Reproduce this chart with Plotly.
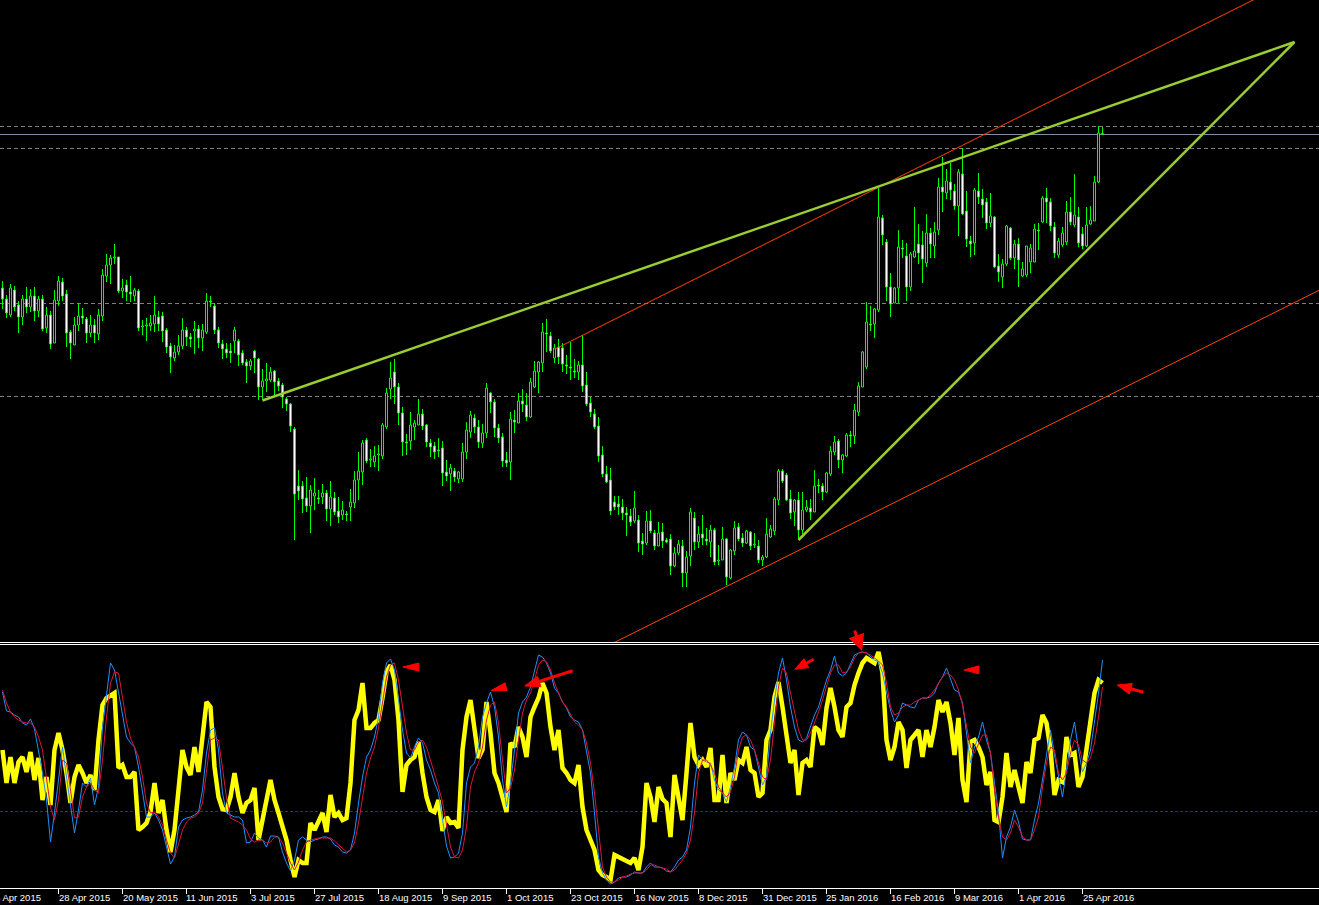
import math
import plotly.graph_objects as go

# ---------------- data ----------------
date_labels = ["6 Apr 2015", "28 Apr 2015", "20 May 2015", "11 Jun 2015", "3 Jul 2015",
               "27 Jul 2015", "18 Aug 2015", "9 Sep 2015", "1 Oct 2015", "23 Oct 2015",
               "16 Nov 2015", "8 Dec 2015", "31 Dec 2015", "25 Jan 2016", "16 Feb 2016",
               "9 Mar 2016", "1 Apr 2016", "25 Apr 2016"]
label_bar = [-2, 14, 30, 46, 62, 78, 94, 110, 126, 142, 158, 174, 190, 206, 222, 238, 254, 270]

open_ = [354, 343, 327, 352, 337, 325, 343, 335, 346, 331,
         343, 314, 327, 299, 341, 360, 348, 310, 297, 317,
         326, 323, 309, 317, 308, 326, 366, 377, 384, 385,
         351, 357, 350, 346, 351, 315, 316, 316, 318, 325,
         326, 312, 296, 284, 290, 296, 312, 305, 311, 313,
         304, 310, 341, 336, 312, 298, 293, 291, 301, 301,
         289, 280, 276, 291, 283, 255, 261, 262, 271, 261,
         257, 243, 238, 213, 156, 156, 144, 136, 146, 144,
         145, 149, 133, 144, 131, 127, 128, 135, 139, 162,
         170, 202, 182, 180, 187, 186, 215, 253, 270, 255,
         229, 200, 201, 215, 217, 228, 217, 199, 196, 192,
         194, 170, 168, 171, 163, 163, 190, 210, 224, 215,
         199, 209, 249, 240, 214, 205, 182, 180, 222, 219,
         241, 237, 225, 255, 270, 279, 309, 306, 284, 295,
         294, 277, 275, 271, 270, 277, 257, 239, 228, 216,
         187, 168, 162, 140, 138, 135, 129, 126, 121, 122,
         101, 99, 121, 109, 96, 110, 102, 103, 76, 89,
         96, 69, 86, 124, 100, 108, 103, 100, 112, 81,
         82, 103, 64, 91, 115, 104, 99, 110, 97, 96,
         82, 85, 105, 111, 142, 171, 167, 143, 130, 142,
         112, 132, 134, 130, 157, 156, 150, 168, 190, 201,
         182, 186, 207, 206, 230, 255, 275, 318, 318, 332,
         424, 400, 355, 339, 354, 394, 386, 355, 385, 398,
         397, 379, 409, 396, 412, 455, 449, 460, 451, 436,
         468, 431, 401, 399, 451, 443, 440, 419, 425, 376,
         365, 378, 414, 384, 398, 366, 367, 380, 380, 412,
         420, 444, 440, 415, 387, 397, 400, 430, 417, 425,
         408, 396, 418, 421, 460, 508]

high = [361, 347, 358, 356, 341, 347, 355, 353, 355, 346,
        347, 335, 331, 352, 366, 364, 352, 312, 325, 339,
        334, 325, 327, 323, 333, 373, 388, 387, 398, 385,
        363, 362, 366, 354, 353, 322, 324, 327, 346, 331,
        330, 314, 299, 297, 307, 324, 315, 309, 321, 317,
        318, 349, 346, 339, 315, 302, 299, 299, 315, 303,
        292, 283, 283, 292, 284, 273, 279, 275, 272, 264,
        259, 245, 239, 215, 172, 161, 165, 157, 164, 152,
        158, 152, 161, 150, 145, 141, 131, 153, 171, 190,
        202, 204, 193, 196, 197, 219, 254, 280, 283, 259,
        235, 208, 230, 222, 243, 233, 218, 203, 200, 204,
        201, 182, 178, 174, 171, 199, 220, 231, 228, 222,
        218, 259, 250, 243, 218, 209, 190, 230, 232, 249,
        253, 249, 264, 281, 281, 319, 323, 310, 298, 303,
        299, 287, 300, 283, 281, 307, 270, 245, 233, 225,
        196, 176, 174, 146, 146, 143, 135, 133, 151, 127,
        109, 131, 132, 112, 120, 119, 104, 108, 95, 102,
        102, 91, 134, 130, 116, 127, 114, 117, 114, 97,
        115, 104, 93, 121, 119, 109, 112, 111, 109, 102,
        87, 124, 117, 145, 173, 173, 169, 152, 143, 150,
        150, 142, 143, 172, 163, 159, 170, 196, 206, 203,
        188, 209, 211, 238, 260, 291, 340, 336, 334, 454,
        427, 403, 369, 355, 412, 402, 399, 390, 435, 418,
        411, 428, 414, 420, 464, 485, 473, 479, 458, 473,
        494, 451, 406, 454, 469, 453, 444, 449, 426, 388,
        383, 417, 415, 402, 404, 380, 396, 398, 418, 419,
        446, 454, 444, 420, 404, 415, 441, 445, 468, 435,
        415, 435, 436, 466, 516, 515]

low = [333, 324, 325, 331, 309, 317, 329, 330, 321, 325,
       311, 309, 293, 299, 336, 341, 295, 283, 297, 311,
       318, 299, 305, 299, 302, 321, 360, 358, 378, 349,
       344, 341, 340, 341, 311, 307, 301, 311, 310, 311,
       300, 289, 269, 281, 287, 293, 296, 295, 288, 294,
       291, 308, 335, 308, 294, 283, 284, 279, 289, 276,
       277, 259, 272, 269, 242, 242, 250, 260, 247, 251,
       234, 231, 210, 102, 142, 129, 130, 109, 132, 138,
       138, 121, 116, 127, 119, 122, 121, 121, 134, 142,
       157, 179, 175, 175, 171, 183, 213, 243, 238, 217,
       186, 187, 192, 202, 217, 212, 195, 185, 183, 185,
       156, 161, 151, 160, 159, 160, 183, 204, 209, 194,
       194, 204, 229, 205, 199, 175, 175, 162, 209, 219,
       230, 221, 224, 254, 249, 270, 290, 289, 279, 278,
       270, 268, 262, 264, 262, 250, 236, 225, 213, 180,
       165, 159, 127, 132, 127, 122, 106, 116, 119, 90,
       87, 97, 109, 92, 96, 94, 99, 67, 75, 87,
       55, 55, 76, 92, 94, 97, 97, 85, 77, 77,
       82, 57, 63, 87, 101, 95, 98, 92, 94, 79,
       76, 84, 104, 107, 137, 159, 141, 123, 116, 102,
       108, 130, 122, 130, 149, 142, 149, 166, 187, 174,
       169, 185, 195, 198, 226, 255, 273, 311, 304, 330,
       397, 341, 325, 339, 339, 384, 341, 351, 384, 378,
       359, 375, 384, 384, 407, 430, 443, 442, 432, 406,
       427, 395, 385, 387, 438, 424, 413, 415, 374, 360,
       354, 376, 382, 373, 355, 365, 365, 369, 380, 392,
       419, 419, 411, 384, 384, 395, 397, 417, 415, 395,
       393, 395, 417, 421, 459, 507]

close = [343, 329, 354, 335, 325, 343, 335, 346, 331, 343,
         313, 327, 298, 342, 361, 346, 309, 299, 317, 326,
         324, 309, 317, 309, 327, 367, 377, 384, 385, 351,
         354, 350, 348, 352, 314, 315, 316, 319, 327, 318,
         311, 295, 285, 290, 296, 312, 305, 303, 313, 304,
         312, 341, 340, 312, 299, 293, 289, 289, 312, 287,
         279, 276, 281, 284, 255, 261, 263, 270, 260, 256,
         245, 238, 216, 148, 151, 143, 136, 152, 149, 143,
         149, 133, 145, 130, 125, 132, 127, 140, 162, 171,
         199, 181, 182, 186, 187, 217, 249, 264, 255, 229,
         200, 199, 217, 219, 228, 216, 200, 195, 190, 191,
         169, 166, 174, 165, 170, 190, 212, 227, 215, 200,
         209, 254, 240, 214, 204, 181, 179, 223, 220, 241,
         238, 225, 260, 271, 280, 310, 308, 291, 294, 285,
         278, 276, 274, 270, 277, 256, 238, 230, 215, 186,
         168, 160, 131, 135, 135, 129, 127, 120, 134, 99,
         98, 121, 111, 96, 109, 101, 100, 76, 89, 98,
         69, 85, 130, 100, 108, 104, 101, 112, 80, 82,
         103, 65, 92, 114, 103, 99, 111, 96, 98, 82,
         85, 108, 113, 143, 171, 161, 142, 129, 142, 112,
         132, 135, 130, 156, 156, 150, 169, 191, 200, 182,
         187, 207, 206, 232, 256, 290, 320, 317, 333, 425,
         407, 355, 338, 354, 395, 393, 355, 388, 391, 389,
         383, 409, 398, 410, 455, 450, 461, 452, 436, 470,
         428, 403, 398, 452, 445, 437, 419, 426, 375, 370,
         378, 416, 384, 398, 382, 373, 396, 394, 413, 411,
         444, 440, 416, 389, 401, 409, 430, 420, 427, 399,
         396, 417, 422, 460, 509, 507.5]

osc_main = [138, 105, 131, 105, 126, 131, 116, 136, 108, 130,
            88, 111, 83, 138, 155, 138, 115, 85, 111, 123,
            115, 105, 113, 98, 148, 183, 190, 193, 195, 120,
            123, 111, 111, 116, 58, 61, 65, 76, 105, 75,
            88, 58, 36, 58, 101, 138, 121, 113, 141, 116,
            151, 186, 181, 121, 91, 79, 78, 91, 115, 91,
            75, 85, 88, 100, 48, 71, 88, 108, 88, 75,
            61, 48, 28, 11, 28, 25, 25, 65, 58, 68,
            75, 56, 93, 71, 75, 68, 70, 105, 168, 178,
            205, 160, 160, 165, 168, 190, 216, 223, 208, 168,
            96, 123, 128, 131, 146, 115, 91, 78, 76, 88,
            57, 71, 65, 66, 60, 138, 171, 188, 158, 130,
            138, 186, 155, 115, 105, 91, 76, 145, 141, 161,
            151, 131, 171, 181, 190, 205, 195, 161, 138, 158,
            120, 115, 108, 105, 123, 81, 58, 48, 38, 18,
            13, 11, 8, 33, 31, 28, 26, 25, 30, 18,
            41, 105, 91, 66, 101, 89, 85, 51, 113, 91,
            68, 115, 165, 131, 123, 128, 121, 140, 88, 88,
            133, 85, 115, 108, 128, 125, 141, 118, 115, 91,
            95, 148, 158, 191, 206, 181, 155, 125, 138, 93,
            125, 128, 121, 161, 158, 143, 180, 200, 181, 158,
            151, 181, 185, 203, 215, 225, 230, 228, 225, 236,
            215, 148, 128, 141, 166, 158, 120, 148, 153, 158,
            131, 158, 141, 161, 188, 176, 186, 165, 133, 170,
            108, 86, 146, 148, 141, 131, 103, 116, 68, 66,
            91, 135, 101, 118, 101, 85, 126, 115, 148, 150,
            173, 165, 138, 93, 108, 106, 151, 133, 135, 101,
            111, 138, 168, 195, 208, 205]

stoch_k = [196, 177, 176, 173, 171, 165, 163, 169, 159, 138,
           115, 88, 46, 75, 111, 141, 111, 81, 55, 78,
           105, 101, 110, 83, 101, 161, 196, 225, 218, 195,
           171, 151, 145, 141, 121, 95, 71, 71, 75, 68,
           58, 41, 24, 31, 61, 68, 70, 71, 73, 76,
           98, 135, 158, 160, 138, 95, 75, 73, 71, 71,
           68, 45, 46, 55, 50, 48, 41, 52, 52, 51,
           36, 25, 17, 28, 48, 51, 48, 46, 48, 49,
           51, 51, 49, 43, 41, 36, 35, 38, 55, 85,
           111, 131, 138, 151, 171, 205, 225, 229, 218, 188,
           158, 135, 130, 141, 150, 145, 128, 118, 105, 95,
           67, 42, 30, 31, 35, 55, 105, 121, 125, 141,
           171, 185, 196, 181, 151, 108, 81, 105, 138, 175,
           186, 191, 201, 218, 233, 231, 225, 215, 200, 195,
           186, 180, 171, 168, 166, 158, 138, 115, 75, 31,
           15, 8, 4, 6, 10, 11, 11, 13, 16, 15,
           15, 21, 25, 21, 21, 20, 17, 16, 21, 28,
           31, 38, 61, 105, 133, 128, 126, 125, 108, 98,
           95, 86, 101, 121, 148, 156, 153, 141, 138, 121,
           103, 111, 155, 188, 215, 230, 208, 181, 161, 148,
           146, 150, 161, 173, 181, 195, 208, 218, 232, 215,
           212, 215, 225, 233, 235, 236, 235, 231, 228, 226,
           215, 196, 178, 166, 173, 185, 183, 181, 180, 188,
           190, 190, 191, 195, 205, 211, 220, 208, 198, 196,
           185, 155, 125, 141, 151, 166, 148, 135, 105, 75,
           30, 51, 61, 78, 66, 49, 48, 48, 68, 85,
           108, 135, 158, 133, 111, 91, 118, 148, 166, 138,
           116, 125, 138, 165, 195, 228]

stoch_d = [198, 185, 176, 171, 168, 166, 165, 165, 161, 151,
           138, 108, 81, 68, 88, 128, 125, 98, 70, 71,
           91, 101, 105, 98, 95, 128, 171, 205, 216, 215,
           188, 166, 150, 141, 131, 111, 85, 75, 76, 71,
           63, 48, 35, 30, 45, 58, 66, 70, 71, 75,
           85, 115, 148, 150, 148, 120, 90, 70, 68, 66,
           63, 58, 49, 46, 48, 48, 45, 46, 51, 51,
           45, 35, 25, 18, 26, 38, 46, 48, 49, 50,
           50, 50, 50, 47, 43, 40, 36, 38, 45, 65,
           91, 115, 130, 141, 160, 185, 211, 223, 225, 208,
           181, 155, 138, 138, 146, 148, 141, 128, 115, 101,
           86, 63, 41, 31, 30, 38, 61, 101, 116, 125,
           141, 168, 183, 186, 165, 128, 95, 100, 118, 148,
           175, 188, 195, 208, 223, 228, 226, 218, 205, 195,
           186, 181, 173, 166, 163, 158, 145, 125, 95, 55,
           21, 11, 6, 6, 8, 11, 12, 14, 15, 15,
           15, 18, 23, 23, 21, 20, 19, 16, 18, 23,
           28, 35, 48, 75, 115, 128, 128, 123, 115, 101,
           95, 91, 96, 111, 138, 151, 153, 148, 138, 125,
           111, 108, 128, 165, 201, 220, 215, 195, 175, 158,
           148, 148, 155, 165, 176, 188, 201, 215, 223, 223,
           215, 216, 221, 230, 235, 236, 235, 233, 230, 227,
           223, 205, 181, 173, 175, 181, 183, 183, 186, 188,
           190, 190, 193, 198, 205, 211, 215, 213, 208, 198,
           183, 161, 141, 135, 145, 153, 153, 135, 98, 71,
           51, 48, 55, 68, 61, 51, 48, 48, 58, 71,
           101, 125, 141, 138, 115, 108, 115, 135, 148, 143,
           128, 125, 130, 145, 171, 201]

price_levels = [515.5, 493.5, 338.5, 245.5]
osc_level = 76.5

green_lines = [((65, 241.5), (323, 600)), ((199, 102), (323, 600))]
red_lines = [((138, 292.7), (329.2, 675.1)), ((150, -6.4), (329.2, 351.8))]

# arrow marks on the oscillator (tip -> tail, in bar / oscillator units)
arrow_tips = [(100.05, 221.0), (122.1, 197.3), (130.6, 202.0), (198.1, 218.7), (240.4, 218.0), (278.7, 203.0)]
arrow_tails = [(104.1, 221.0), (125.9, 201.3), (142.55, 217.3), (202.8, 228.7), (244.1, 218.2), (285.2, 195.7)]
down_arrow_tip = (214.9, 237.0)

n = len(open_)
assert len(high) == n and len(low) == n and len(close) == n, (len(open_), len(high), len(low), len(close))
assert len(osc_main) == n and len(stoch_k) == n and len(stoch_d) == n, (len(osc_main), len(stoch_k), len(stoch_d))
bars = list(range(n))

# ---------------- geometry / style ----------------
W, H = 1319, 905
PX_PER_BAR = 4.0
X0_PX = 2.5
x_range = [-X0_PX / PX_PER_BAR, (W - X0_PX) / PX_PER_BAR]
MAIN_BOTTOM = 642
OSC_TOP, OSC_BOTTOM = 644, 888
OSC_PX = 1.0
LIME = "#00FF00"

fig = go.Figure()

# wicks (as thin bars so that bodies, drawn later in the same layer, cover them)
fig.add_trace(go.Bar(x=bars, y=[high[i] - low[i] for i in bars], base=low, width=0.25,
                     marker=dict(color=LIME, line=dict(width=0)),
                     hoverinfo="skip", xaxis="x", yaxis="y"))

# bodies
for bull in (True, False):
    xs, bases, hs = [], [], []
    for i in bars:
        up = close[i] >= open_[i]
        if up != bull:
            continue
        lo_b = min(open_[i], close[i])
        hi_b = max(open_[i], close[i])
        xs.append(i)
        bases.append(lo_b)
        hs.append(max(hi_b - lo_b, 1))
    fig.add_trace(go.Bar(x=xs, y=hs, base=bases, width=0.5,
                         marker=dict(color="#000000" if bull else "#FFFFFF",
                                     line=dict(color=LIME, width=1)),
                         hoverinfo="skip", xaxis="x", yaxis="y"))

# trend lines
for (a, b) in red_lines:
    fig.add_trace(go.Scatter(x=[a[0], b[0]], y=[a[1], b[1]], mode="lines",
                             line=dict(color="#FF4500", width=1), hoverinfo="skip",
                             xaxis="x", yaxis="y"))
for (a, b) in green_lines:
    fig.add_trace(go.Scatter(x=[a[0], b[0]], y=[a[1], b[1]], mode="lines",
                             line=dict(color="#9ACD32", width=2.5), hoverinfo="skip",
                             xaxis="x", yaxis="y"))

# oscillator
fig.add_trace(go.Scatter(x=bars, y=osc_main, mode="lines", line=dict(color="#FFFF00", width=4.5),
                         hoverinfo="skip", xaxis="x2", yaxis="y2"))
fig.add_trace(go.Scatter(x=bars, y=stoch_k, mode="lines", line=dict(color="#1E90FF", width=1),
                         hoverinfo="skip", xaxis="x2", yaxis="y2"))
fig.add_trace(go.Scatter(x=bars, y=stoch_d, mode="lines", line=dict(color="#DC143C", width=1),
                         hoverinfo="skip", xaxis="x2", yaxis="y2"))

# arrows
head_len = [16.5, 16.0, 15.0, 13.0, 16.0, 14.0]
head_hw = [4.0, 4.0, 5.5, 5.0, 4.0, 5.5]
for k in range(len(arrow_tips)):
    tip, tail = arrow_tips[k], arrow_tails[k]
    tx, ty = tip[0] * PX_PER_BAR, -tip[1] * OSC_PX
    ex, ey = tail[0] * PX_PER_BAR, -tail[1] * OSC_PX
    dx, dy = ex - tx, ey - ty
    d = math.hypot(dx, dy)
    ux, uy = dx / d, dy / d
    hl = min(head_len[k], d)
    bx, by = tx + ux * hl, ty + uy * hl
    nx, ny = -uy, ux
    hw = head_hw[k]
    pts = [(tx, ty), (bx + nx * hw, by + ny * hw), (bx - nx * hw, by - ny * hw), (tx, ty)]
    fig.add_trace(go.Scatter(x=[p[0] / PX_PER_BAR for p in pts], y=[-p[1] / OSC_PX for p in pts],
                             mode="lines", fill="toself", fillcolor="#FF0000",
                             line=dict(color="#FF0000", width=1), hoverinfo="skip",
                             xaxis="x2", yaxis="y2"))
    if d > hl + 0.5:
        fig.add_trace(go.Scatter(x=[bx / PX_PER_BAR, ex / PX_PER_BAR], y=[-by / OSC_PX, -ey / OSC_PX],
                                 mode="lines", line=dict(color="#FF0000", width=3),
                                 hoverinfo="skip", xaxis="x2", yaxis="y2"))

shapes = []
for lv in price_levels:
    shapes.append(dict(type="line", xref="paper", yref="y", x0=0, x1=1, y0=lv, y1=lv,
                       line=dict(color="#808080", width=1, dash="4px,3px"), layer="below"))
bid = close[-1]
shapes.append(dict(type="line", xref="paper", yref="y", x0=0, x1=1, y0=bid, y1=bid,
                   line=dict(color="#7D8FA3", width=1), layer="below"))
shapes.append(dict(type="line", xref="paper", yref="y2", x0=0, x1=1, y0=osc_level, y1=osc_level,
                   line=dict(color="#2424C8", width=1, dash="3px,2px"), layer="below"))
for row in (MAIN_BOTTOM, OSC_TOP, OSC_BOTTOM):
    yy = (H - row - 0.5) / H
    shapes.append(dict(type="line", xref="paper", yref="paper", x0=0, x1=1, y0=yy, y1=yy,
                       line=dict(color="#FFFFFF", width=1)))

annotations = []
for i, txt in zip(label_bar, date_labels):
    annotations.append(dict(xref="paper", yref="paper", x=(X0_PX + PX_PER_BAR * i) / W,
                            y=(H - 890) / H, xanchor="left", yanchor="top", xshift=-2,
                            text=txt, showarrow=False,
                            font=dict(family="Liberation Sans, Arial, sans-serif", size=9.5, color="#FFFFFF")))
annotations.append(dict(xref="x2", yref="y2", x=down_arrow_tip[0], y=down_arrow_tip[1],
                        ax=-8, ay=-22, text="", showarrow=True, arrowhead=2, arrowsize=1.1,
                        arrowwidth=3, arrowcolor="#FF0000"))

main_dom = [(H - MAIN_BOTTOM) / H, 1.0]
osc_dom = [(H - OSC_BOTTOM) / H, (H - OSC_TOP) / H]

axis_off = dict(showgrid=False, zeroline=False, showticklabels=False, showline=False, fixedrange=True)
fig.update_layout(
    width=W, height=H, autosize=False,
    margin=dict(l=0, r=0, t=0, b=0, pad=0),
    paper_bgcolor="#000000", plot_bgcolor="#000000",
    showlegend=False, barmode="overlay", bargap=0,
    xaxis=dict(range=x_range, domain=[0, 1], anchor="y", ticks="", **axis_off),
    yaxis=dict(range=[0, MAIN_BOTTOM], domain=main_dom, anchor="x", ticks="", **axis_off),
    xaxis2=dict(range=x_range, domain=[0, 1], anchor="y2", tickmode="array",
                tickvals=[b for b in label_bar if b >= x_range[0]], ticks="outside", ticklen=5,
                tickwidth=1, tickcolor="#FFFFFF", **axis_off),
    yaxis2=dict(range=[0, OSC_BOTTOM - OSC_TOP], domain=osc_dom, anchor="x2", ticks="", **axis_off),
    shapes=shapes, annotations=annotations,
)

fig.write_html("out.html", include_plotlyjs=True, full_html=True,
               config={"displayModeBar": False, "staticPlot": True},
               post_script="document.body.style.margin='0px';document.body.style.overflow='hidden';")
